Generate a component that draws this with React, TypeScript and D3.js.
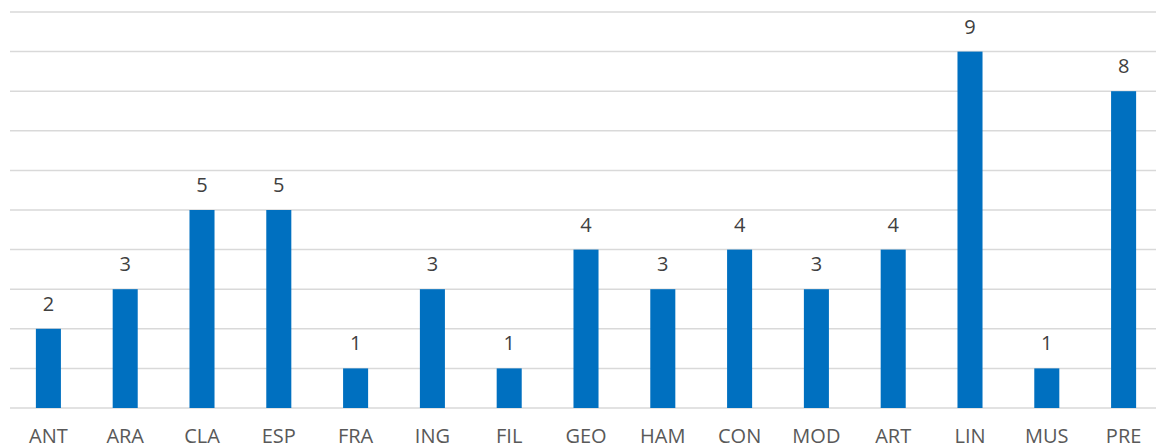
import React from "react";
import * as d3 from "d3";

const categories = ["ANT", "ARA", "CLA", "ESP", "FRA", "ING", "FIL", "GEO", "HAM", "CON", "MOD", "ART", "LIN", "MUS", "PRE"];
const values = [2, 3, 5, 5, 1, 3, 1, 4, 3, 4, 3, 4, 9, 1, 8];
const gridTicks = [0, 1, 2, 3, 4, 5, 6, 7, 8, 9, 10];

const W = 1156;
const H = 448;

export default function App() {
  const x = d3.scaleBand<string>().domain(categories).range([10, 1162]).paddingInner(0.674).paddingOuter(0.337);
  const y = d3.scaleLinear().domain([0, 10]).range([408, 12]);
  const font = "'Open Sans', 'Liberation Sans', sans-serif";
  return (
    <div style={{ position: "absolute", left: 0, top: 0 }}>
      <svg width={W} height={H} style={{ display: "block", background: "#fff" }}>
        {gridTicks.map((t) => (
          <line key={t} x1={10} x2={W} y1={y(t)} y2={y(t)} stroke="#d9d9d9" strokeWidth={1.5} />
        ))}
        {categories.map((c, i) => (
          <rect key={c} x={x(c)} y={y(values[i])} width={x.bandwidth()} height={y(0) - y(values[i])} fill="#0070c0" />
        ))}
        {categories.map((c, i) => (
          <text key={"v" + c} x={(x(c) as number) + x.bandwidth() / 2} y={y(values[i]) - 18} textAnchor="middle" fontFamily={font} fontSize={20} fill="#404040">
            {values[i]}
          </text>
        ))}
        {categories.map((c) => (
          <text key={"l" + c} x={(x(c) as number) + x.bandwidth() / 2} y={442.5} textAnchor="middle" fontFamily={font} fontSize={20} fill="#595959">
            {c}
          </text>
        ))}
      </svg>
    </div>
  );
}
